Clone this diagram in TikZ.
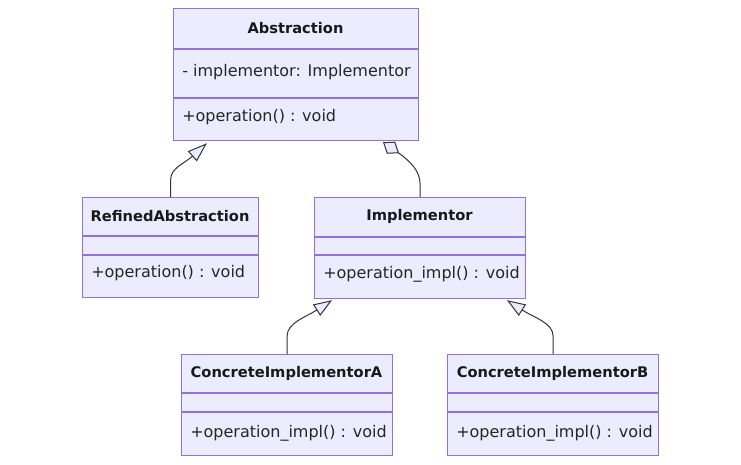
\documentclass[tikz,border=0pt]{standalone}
\usepackage{fontspec}
\setmainfont{DejaVu Sans}
\usetikzlibrary{arrows.meta,calc}
\definecolor{boxfill}{HTML}{ECECFF}
\definecolor{boxline}{HTML}{9370DB}
\definecolor{edge}{HTML}{333333}
\begin{document}
\begin{tikzpicture}[x=0.75pt,y=-0.75pt,
  classbox/.style={draw=boxline,fill=boxfill,line width=0.9pt,anchor=north west,inner sep=0pt},
  divider/.style={draw=boxline,line width=0.9pt},
  title/.style={font=\fontsize{11}{13}\selectfont\bfseries,text=black!90,inner sep=0pt},
  member/.style={font=\fontsize{12}{14}\selectfont,text=black!85,anchor=west,inner sep=0pt},
  conn/.style={draw=edge,line width=0.75pt},
  genA/.style={conn,-{Triangle[open,fill=boxfill,length=14.8pt,width=10pt,line width=0.75pt]}},
  genB/.style={conn,-{Triangle[open,fill=boxfill,length=13.8pt,width=10pt,line width=0.75pt]}},
  agg/.style={conn,{Diamond[open,fill=boxfill,length=14.6pt,width=11pt,line width=0.75pt]}-}
]
\useasboundingbox[fill=white] (0,0) rectangle (741,464);

% Abstraction
\node[classbox,minimum width=245*0.75pt,minimum height=132*0.75pt] (abs) at (173,8) {};
\draw[divider] (173,49) -- (418,49);
\draw[divider] (173,98) -- (418,98);
\node[title] (absT) at (295.5,28) {Abstraction};
\node[member] (absA) at (182,72) {- implementor: Implementor};
\node[member] (absM) at (182,117) {+operation() : void};

% RefinedAbstraction
\node[classbox,minimum width=176*0.75pt,minimum height=100*0.75pt] (ref) at (82,197) {};
\draw[divider] (82,236) -- (258,236);
\draw[divider] (82,255) -- (258,255);
\node[title] (refT) at (170,216) {RefinedAbstraction};
\node[member] (refM) at (91,273) {+operation() : void};

% Implementor
\node[classbox,minimum width=211*0.75pt,minimum height=101*0.75pt] (imp) at (314,197) {};
\draw[divider] (314,237) -- (525,237);
\draw[divider] (314,255) -- (525,255);
\node[title] (impT) at (419.5,216) {Implementor};
\node[member] (impM) at (323,274) {+operation\_impl() : void};

% ConcreteImplementorA
\node[classbox,minimum width=211*0.75pt,minimum height=101*0.75pt] (ca) at (181,354) {};
\draw[divider] (181,393) -- (392,393);
\draw[divider] (181,412) -- (392,412);
\node[title] (caT) at (286.5,373) {ConcreteImplementorA};
\node[member] (caM) at (190,433) {+operation\_impl() : void};

% ConcreteImplementorB
\node[classbox,minimum width=211*0.75pt,minimum height=101*0.75pt] (cb) at (447,354) {};
\draw[divider] (447,393) -- (658,393);
\draw[divider] (447,412) -- (658,412);
\node[title] (cbT) at (552.5,373) {ConcreteImplementorB};
\node[member] (cbM) at (456,433) {+operation\_impl() : void};

% connector end points
\coordinate (absTipL) at ($(abs.south west)+(34,2)$);
\coordinate (absBaseL) at ($(absTipL)+(-14.8,13.2)$);
\coordinate (absDia) at ($(abs.south west)+(210,1)$);
\coordinate (absDiaEnd) at ($(absDia)+(16,11)$);
\coordinate (aggBend) at ($(imp.north)+(0,-13)$);
\coordinate (impTipL) at ($(imp.south west)+(18,1)$);
\coordinate (impBaseL) at ($(impTipL)+(-15.5,10)$);
\coordinate (impTipR) at ($(imp.south west)+(193,1)$);
\coordinate (impBaseR) at ($(impTipR)+(15.5,10)$);

\draw[genA] (ref.north) -- ++(0,-17) .. controls +(0,-12) and +(-9,8) .. (absBaseL) -- (absTipL);
\draw[agg] (absDia) -- (absDiaEnd) .. controls +(11,8) and +(0,-13) .. (aggBend) -- (imp.north);
\draw[genB] (ca.north) -- ++(0,-18) .. controls +(0,-13) and +(-11,7) .. (impBaseL) -- (impTipL);
\draw[genB] (cb.north) -- ++(0,-18) .. controls +(0,-13) and +(11,7) .. (impBaseR) -- (impTipR);
\end{tikzpicture}
\end{document}
